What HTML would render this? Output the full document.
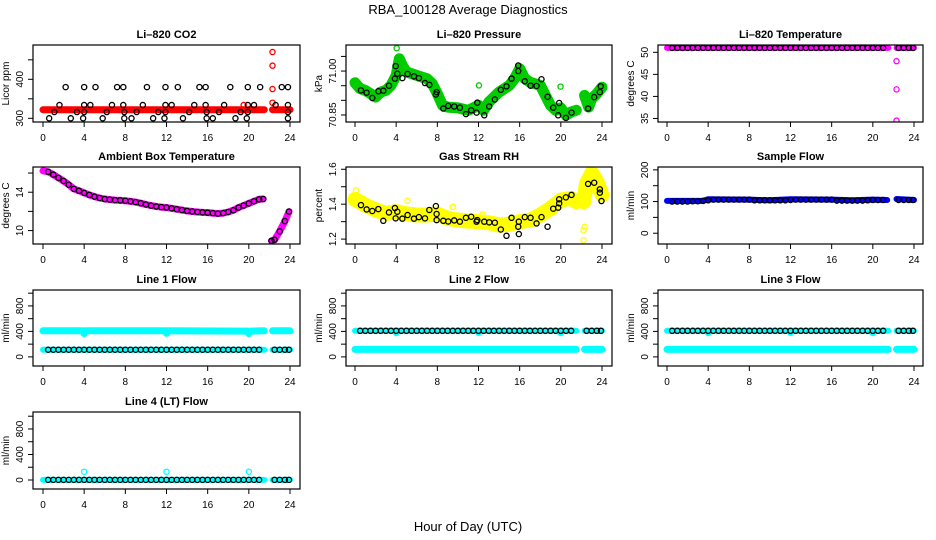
<!DOCTYPE html>
<html><head><meta charset="utf-8"><style>
html,body{margin:0;padding:0;background:#fff;}
svg{display:block;font-family:"Liberation Sans",sans-serif;}
</style></head><body>
<svg id="c" width="936" height="540" viewBox="0 0 936 540" xmlns="http://www.w3.org/2000/svg">
<text x="468" y="14" text-anchor="middle" font-size="13">RBA_100128  Average Diagnostics</text>
<text x="468" y="531" text-anchor="middle" font-size="13">Hour of Day (UTC)</text>
</svg>
<script>
// ---- data ----
const xTicks=[0,4,8,12,16,20,24];
const blkH=[0.5,1,1.5,2,2.5,3,3.5,4,4.5,5,5.5,6,6.5,7,7.5,8,8.5,9,9.5,10,10.5,11,11.5,12,12.5,13,13.5,14,14.5,15,15.5,16,16.5,17,17.5,18,18.5,19,19.5,20,20.5,21,22.5,23,23.5,23.9];
// CO2
const co2BandH=[0,21.5,22.3,24];
const co2BandV=[322,322,322,322];
const co2OutH=[22.3,22.3,22.3,22.3,19.5];
const co2OutV=[470,435,375,340,334];
const co2BlkH=[2.2,4.0,5.1,7.2,7.8,10.1,11.9,13.1,15.2,15.8,18.2,19.9,21.1,23.2,23.8,1.6,4.0,4.6,6.7,7.8,9.7,11.9,12.5,14.7,15.8,17.6,19.9,20.5,22.6,23.8,1.1,3.3,4.0,6.2,7.9,9.1,11.2,11.9,14.2,15.9,17.1,19.2,19.9,23.8,0.6,2.7,3.9,5.8,7.9,8.6,10.7,11.8,13.6,15.9,16.5,18.7,19.8,23.8];
const co2BlkV=[380,380,380,380,380,380,380,380,380,380,380,380,380,380,380,334,334,334,334,334,334,334,334,334,334,334,334,334,334,334,316,316,316,316,316,316,316,316,316,316,316,316,316,316,300,300,300,300,300,300,300,300,300,300,300,300,300,300];
// Pressure
const prBandH=[0,0.5,1,1.5,2,2.5,3,3.5,4,4.3,4.6,5,6,7,7.5,8,8.5,9,10,11,12,12.5,13,14,15,15.5,16,16.5,17,18,18.5,19,19.5,20,20.5,21,21.5,22.3,22.7,23,23.5,24];
const prBandV=[70.960,70.940,70.934,70.923,70.911,70.928,70.934,70.951,70.985,71.042,71.019,70.997,70.985,70.974,70.957,70.923,70.883,70.877,70.874,70.866,70.883,70.866,70.894,70.928,70.951,70.974,71.008,70.974,70.962,70.951,70.917,70.883,70.866,70.874,70.849,70.860,70.866,70.917,70.877,70.906,70.923,70.945];
const prOutH=[4.05,12.04,19.97];
const prOutV=[71.078,70.951,70.947];
const prBlkH=[0.58,1.13,1.68,2.27,2.75,3.30,3.88,3.95,4.11,4.60,5.11,5.73,6.21,6.80,7.22,7.86,7.93,8.58,9.06,9.64,10.19,10.78,11.29,11.81,11.88,12.56,13.04,13.59,14.17,14.72,15.21,15.86,15.86,16.50,17.06,17.64,18.12,18.71,19.26,19.74,19.84,20.49,21.04,22.65,23.24,23.79,23.88];
const prBlkV=[70.934,70.926,70.908,70.931,70.933,70.950,70.974,71.017,70.991,70.976,70.990,70.982,70.976,70.959,70.953,70.920,70.928,70.872,70.881,70.879,70.875,70.853,70.866,70.858,70.892,70.849,70.879,70.903,70.936,70.948,70.974,71.019,71.000,70.965,70.950,70.949,70.972,70.912,70.875,70.849,70.891,70.840,70.858,70.872,70.911,70.928,70.948];
// Li-820 temperature
const tBandH=[0,21.5,22.3,24];
const tBandV=[51,51,51,51];
const tOutH=[22.3,22.3,22.3];
const tOutV=[48,41.6,34.5];
const tBlkV=[51,51,51,51,51,51,51,51,51,51,51,51,51,51,51,51,51,51,51,51,51,51,51,51,51,51,51,51,51,51,51,51,51,51,51,51,51,51,51,51,51,51,51,51,51,51];
// Ambient box temperature
const abH=[0,0.5,1,1.5,2,2.5,3,3.5,4,4.5,5,5.5,6,6.5,7,7.5,8,8.5,9,9.5,10,10.5,11,11.5,12,12.5,13,13.5,14,14.5,15,15.5,16,16.5,17,17.5,18,18.5,19,19.5,20,20.5,21,21.4,22.2,22.5,23,23.5,23.9];
const abV=[16.23,16.13,15.84,15.5,15.17,14.78,14.35,14.15,13.93,13.72,13.54,13.4,13.29,13.23,13.18,13.15,13.11,13.05,12.97,12.85,12.72,12.6,12.51,12.45,12.4,12.32,12.23,12.14,12.05,11.99,11.94,11.9,11.87,11.82,11.77,11.82,11.94,12.12,12.4,12.62,12.83,13.05,13.26,13.29,8.93,9.04,9.92,10.99,11.98];
// Gas stream RH
const rhBandH=[0,1,2,3,4,5,6,7,8,9,10,11,12,13,14,15,16,17,18,19,20,21,21.5,22.2,22.5,23,23.5,24];
const rhBandV=[1.428,1.395,1.367,1.347,1.357,1.344,1.338,1.338,1.344,1.319,1.309,1.303,1.300,1.294,1.280,1.286,1.300,1.309,1.338,1.376,1.424,1.433,1.414,1.414,1.520,1.577,1.529,1.453];
const rhOutH=[0.1,22.2,22.2,22.3,5.1,9.5,12.4,18.6];
const rhOutV=[1.48,1.194,1.25,1.27,1.42,1.385,1.34,1.38];
const rhBlkH=[0.58,1.13,1.68,2.27,2.75,3.30,3.88,3.95,4.11,4.60,5.11,5.73,6.21,6.80,7.22,7.86,7.93,7.93,8.58,9.06,9.64,10.19,10.78,11.29,11.81,11.88,12.56,13.04,13.59,14.17,14.72,15.21,15.86,15.92,15.92,16.50,17.06,17.64,18.12,18.71,19.26,19.74,19.84,19.84,20.49,21.04,22.65,23.24,23.79,23.79,23.95];
const rhBlkV=[1.395,1.370,1.361,1.372,1.305,1.353,1.378,1.319,1.357,1.317,1.338,1.317,1.326,1.319,1.367,1.389,1.309,1.344,1.305,1.301,1.307,1.300,1.322,1.328,1.300,1.309,1.300,1.296,1.294,1.255,1.219,1.322,1.271,1.300,1.229,1.326,1.322,1.290,1.326,1.271,1.374,1.380,1.405,1.428,1.439,1.453,1.516,1.523,1.485,1.466,1.418];
// Sample flow
const sfBandH=[0,3.5,4,8,10,12,16,18,20,21.4,22.3,24];
const sfBandV=[102,102,107,106,104,107,106,104,106,105,108,105];
const sfBlkV=[100,100,100,100,101,101,102,104,106,106,106,106,106,106,106,106,104,104,104,104,104,104,104,105,106,106,106,106,106,106,106,106,103,103,103,103,103,103,104,105,105,105,105,105,105,105];
// Flows
const l1UpH=[0,3.9,4.0,4.1,11.9,12.0,12.1,19.9,20.0,20.1,21.5,22.3,24];
const l1UpV=[410,410,365,410,410,370,410,405,365,405,410,410,410];
const l1LoH=[0,21.5,22.3,24];
const l1LoV=[112,112,112,112];
const l1BlkV=[112,112,112,112,112,112,112,112,112,112,112,112,112,112,112,112,112,112,112,112,112,112,112,112,112,112,112,112,112,112,112,112,112,112,112,112,112,112,112,112,112,112,112,112,112,112];
const l2UpH=[0,3.9,4.0,4.1,11.9,12.0,12.1,19.9,20.0,20.1,21.5,22.3,24];
const l2UpV=[410,410,370,410,410,375,410,410,370,410,410,410,410];
const l2LoH=[0,21.5,22.3,24];
const l2LoV=[118,118,118,118];
const l2BlkV=[410,410,410,410,410,410,410,410,410,410,410,410,410,410,410,410,410,410,410,410,410,410,410,410,410,410,410,410,410,410,410,410,410,410,410,410,410,410,410,410,410,410,410,410,410,410];
const l3UpH=[0,3.9,4.0,4.1,11.9,12.0,12.1,19.9,20.0,20.1,21.5,22.3,24];
const l3UpV=[410,410,370,410,410,375,410,410,370,410,410,410,410];
const l3LoH=[0,21.5,22.3,24];
const l3LoV=[118,118,118,118];
const l3BlkV=[410,410,410,410,410,410,410,410,410,410,410,410,410,410,410,410,410,410,410,410,410,410,410,410,410,410,410,410,410,410,410,410,410,410,410,410,410,410,410,410,410,410,410,410,410,410];
const l4BandH=[0,21.5,22.3,24];
const l4BandV=[2,2,2,2];
const l4OutH=[4,12,20];
const l4OutV=[130,130,130];
const l4BlkV=[2,2,2,2,2,2,2,2,2,2,2,2,2,2,2,2,2,2,2,2,2,2,2,2,2,2,2,2,2,2,2,2,2,2,2,2,2,2,2,2,2,2,2,2,2,2];

// ---- drawing ----
const svg=document.getElementById('c');
const NS='http://www.w3.org/2000/svg';
const boxL=[33,346,658], boxR=[300,612,923], x0=[43,355,667];
const boxT=[45,167,290,412], boxB=[122,244,366,489];
const GAP_START=21.9;
function mk(tag,attrs,parent){const e=document.createElementNS(NS,tag);for(const k in attrs)e.setAttribute(k,attrs[k]);(parent||svg).appendChild(e);return e;}

function panel(key,col,row,title,ylab,dom,ticks,labels){
  const g=mk('g',{});
  
  
  const L=boxL[col],R=boxR[col],T=boxT[row],B=boxB[row];
  const xs=h=>x0[col]+h*247/24;
  const ys=v=>B-(v-dom[0])/(dom[1]-dom[0])*(B-T);
  const clip=mk('clipPath',{id:'cl'+key},g);
  mk('rect',{x:L,y:T,width:R-L,height:B-T},clip);
  const plot=mk('g',{'clip-path':'url(#cl'+key+')'},g);
  const box=mk('rect',{x:L,y:T,width:R-L,height:B-T,fill:'none',stroke:'#000','stroke-width':1.2},g);
  
  
  const t=mk('text',{x:(L+R)/2,y:T-7,'text-anchor':'middle','font-size':11,'font-weight':'bold'},g);
  t.textContent=title;
  
  
  const xa=mk('g',{},g);
  
  
  mk('line',{x1:xs(xTicks[0]),x2:xs(xTicks[xTicks.length-1]),y1:B,y2:B,stroke:'#000'},xa);
  xTicks.forEach(v=>{
    mk('line',{x1:xs(v),x2:xs(v),y1:B,y2:B+5,stroke:'#000'},xa);
    const tx=mk('text',{x:xs(v),y:B+19,'text-anchor':'middle','font-size':10},xa);
    tx.textContent=v;
    
    
  });
  const ya=mk('g',{},g);
  
  
  mk('line',{x1:L,x2:L,y1:ys(ticks[0]),y2:ys(ticks[ticks.length-1]),stroke:'#000'},ya);
  ticks.forEach(v=>{
    mk('line',{x1:L-5,x2:L,y1:ys(v),y2:ys(v),stroke:'#000'},ya);
  });
  labels.forEach(v=>{
    const tx=mk('text',{x:L-10,y:ys(v),'text-anchor':'middle','font-size':10,transform:`rotate(-90 ${L-10} ${ys(v)})`},ya);
    tx.textContent=v;
    
    
  });
  const yt=mk('text',{x:L-24,y:(T+B)/2,'text-anchor':'middle','font-size':10,transform:`rotate(-90 ${L-24} ${(T+B)/2})`},g);
  yt.textContent=ylab;
  
  
  return {plot,xs,ys};
}
function band(p,H,V,color,w,name){
  let pts=[];
  const segs=[];
  for(let i=0;i<H.length;i++){
    if(i>0&&H[i-1]<GAP_START&&H[i]>=GAP_START){segs.push(pts);pts=[];}
    pts.push(p.xs(H[i]).toFixed(1)+','+p.ys(V[i]).toFixed(1));
  }
  segs.push(pts);
  segs.forEach(s=>{
    const pl=mk('polyline',{points:s.join(' '),fill:'none',stroke:color,'stroke-width':w,'stroke-linecap':'round','stroke-linejoin':'round'},p.plot);
    
    
  });
}
function pts(p,H,V,color,name,r){
  for(let i=0;i<H.length;i++){
    const c=mk('circle',{cx:p.xs(H[i]),cy:p.ys(V[i]),r:r||2.6,fill:'none',stroke:color,'stroke-width':1.3},p.plot);
    
    
  }
}

let p;
p=panel('co2',0,0,'Li–820 CO2','Licor ppm',[290.5,488],[300,350,400,450],[300,400]);
band(p,co2BandH,co2BandV,'#ff0000',7,'co2-band');
pts(p,co2OutH,co2OutV,'#ff0000','co2-outlier');
pts(p,co2BlkH,co2BlkV,'#000','co2-average-point');

p=panel('pressure',1,0,'Li–820 Pressure','kPa',[70.826,71.089],[70.85,70.90,70.95,71.00,71.05],['70.85','71.00']);
band(p,prBandH,prBandV,'#00cc00',11,'pressure-band');
pts(p,prOutH,prOutV,'#00cc00','pressure-outlier');
pts(p,prBlkH,prBlkV,'#000','pressure-average-point');

p=panel('li820temp',2,0,'Li–820 Temperature','degrees C',[34.2,51.66],[35,40,45,50],[35,40,45,50]);
band(p,tBandH,tBandV,'#ff00ff',6,'li820temp-band');
pts(p,tOutH,tOutV,'#ff00ff','li820temp-outlier');
pts(p,blkH,tBlkV,'#000','li820temp-average-point');

p=panel('ambient',0,1,'Ambient Box Temperature','degrees C',[8.6,16.63],[10,12,14,16],[10,14]);
band(p,abH,abV,'#ff00ff',7,'ambient-band');
pts(p,abH.slice(1),abV.slice(1),'#000','ambient-average-point');

p=panel('rh',1,1,'Gas Stream RH','percent',[1.172,1.613],[1.2,1.3,1.4,1.5,1.6],['1.2','1.4','1.6']);
band(p,rhBandH,rhBandV,'#ffff00',15,'rh-band');
pts(p,rhOutH,rhOutV,'#ffff00','rh-outlier');
pts(p,rhBlkH,rhBlkV,'#000','rh-average-point');

p=panel('sampleflow',2,1,'Sample Flow','ml/min',[-34,209],[0,50,100,150,200],[0,100,200]);
band(p,sfBandH,sfBandV,'#0000ff',6,'sampleflow-band');
pts(p,blkH,sfBlkV,'#000','sampleflow-average-point');

const fd=[-143,1050],ft=[0,200,400,600,800,1000],fl=[0,400,800];
p=panel('line1',0,2,'Line 1 Flow','ml/min',fd,ft,fl);
band(p,l1UpH,l1UpV,'#00ffff',7,'line1-upper-band');
band(p,l1LoH,l1LoV,'#00ffff',6,'line1-lower-band');
pts(p,blkH,l1BlkV,'#000','line1-average-point');

p=panel('line2',1,2,'Line 2 Flow','ml/min',fd,ft,fl);
band(p,l2UpH,l2UpV,'#00ffff',6,'line2-upper-band');
band(p,l2LoH,l2LoV,'#00ffff',7,'line2-lower-band');
pts(p,blkH,l2BlkV,'#000','line2-average-point');

p=panel('line3',2,2,'Line 3 Flow','ml/min',fd,ft,fl);
band(p,l3UpH,l3UpV,'#00ffff',6,'line3-upper-band');
band(p,l3LoH,l3LoV,'#00ffff',7,'line3-lower-band');
pts(p,blkH,l3BlkV,'#000','line3-average-point');

p=panel('line4',0,3,'Line 4 (LT) Flow','ml/min',[-141,1066],ft,fl);
band(p,l4BandH,l4BandV,'#00ffff',6,'line4-band');
pts(p,l4OutH,l4OutV,'#00ffff','line4-outlier');
pts(p,blkH,l4BlkV,'#000','line4-average-point');
</script>
</body></html>
